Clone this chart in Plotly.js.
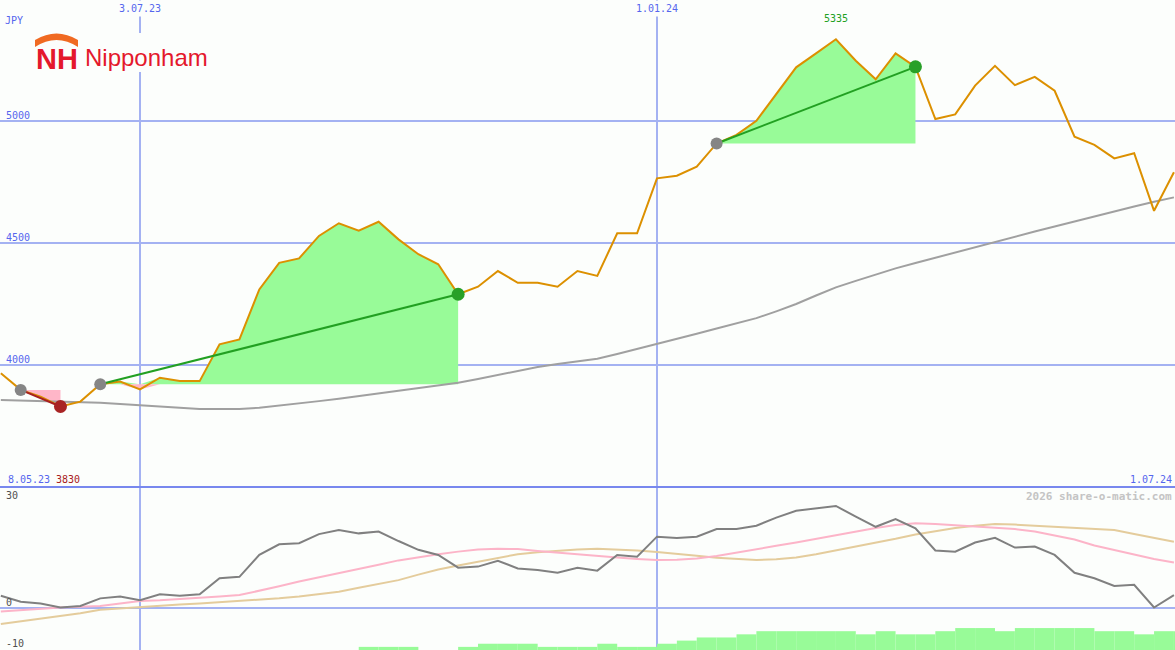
<!DOCTYPE html>
<html>
<head>
<meta charset="utf-8">
<script src="https://cdn.plot.ly/plotly-3.0.1.min.js"></script>
<style>
html,body{margin:0;padding:0;background:#fcfefc;}
#chart{width:1175px;height:650px;}
</style>
</head>
<body>
<div id="chart"></div>
<script>
// ---------- DATA ----------
const startDate = '2023-05-15';          // first weekly close (Monday)
const weekCount = 60;
const price = [3966,3898,3870,3830,3850,3921,3932,3900,3948,3934,3934,4085,4105,4310,4419,4437,4529,4581,4551,4587,4515,4454,4413,4290,4321,4385,4337,4337,4321,4385,4365,4540,4540,4765,4776,4813,4908,4943,5001,5111,5220,5277,5335,5247,5171,5277,5222,5008,5027,5145,5226,5147,5181,5124,4936,4902,4847,4868,4632,4790];
const movingAvg = [3857,3855,3853,3851,3848,3845,3840,3836,3830,3825,3820,3820,3820,3825,3833,3843,3852,3862,3873,3884,3895,3905,3916,3927,3943,3960,3976,3992,4004,4015,4026,4045,4065,4086,4106,4128,4150,4170,4192,4220,4250,4285,4318,4345,4372,4396,4418,4440,4462,4484,4505,4526,4547,4568,4589,4609,4630,4650,4669,4687];
const oscMain = [3.2,1.6,1.1,0,0.4,2.5,3.0,2.0,3.6,3.2,3.6,8.0,8.4,14.4,17.3,17.6,20.1,21.2,20.3,20.8,18.2,15.8,14.4,10.9,11.2,12.8,10.7,10.3,9.5,10.9,10.1,14.4,13.9,19.4,19.0,19.4,21.5,21.5,22.4,24.6,26.5,27.2,27.8,24.9,22.1,24.2,21.7,15.6,15.3,17.8,19.1,16.4,16.7,14.4,9.5,8.0,5.9,6.2,0,3.4];
const oscPink = [-1.1,-0.7,-0.3,0,0.2,0.4,1.1,1.8,2.0,2.3,2.5,3.0,3.4,4.5,5.8,7.1,8.2,9.4,10.6,11.7,12.9,13.8,14.6,15.3,15.9,16.1,16.0,15.5,15.0,14.5,14.1,13.7,13.3,13.0,13.1,13.4,14.1,15.1,16.0,16.9,17.8,18.8,19.9,20.9,21.8,22.6,23.1,22.9,22.6,22.2,21.9,21.5,20.8,19.8,18.6,17.0,15.7,14.5,13.3,12.3];
const oscTan = [-4.5,-3.8,-3.2,-2.5,-1.6,-0.6,-0.2,0.2,0.5,0.8,1.1,1.4,1.8,2.1,2.5,3.0,3.6,4.3,5.4,6.4,7.5,9.0,10.4,11.5,12.6,13.6,14.6,15.1,15.6,15.9,16.1,15.9,15.6,15.2,14.8,14.2,13.6,13.2,13.0,13.2,13.7,14.6,15.6,16.6,17.6,18.8,20.0,21.0,21.8,22.4,22.9,22.7,22.4,22.2,22.0,21.6,21.2,20.1,19.0,18.0];
const strengthBars = [0,0,0,0,0,0,0,0,0,0,0,0,0,0,0,0,0,0,1,1,1,0,0,1,2,2,2,1,1,1,2,1,1,2,3,4,4,5,6,6,6,6,6,5,6,5,5,6,7,7,6,7,7,7,7,6,6,5,6,6];
const tradeEntry = [1,5,36];
const tradeExit  = [3,23,46];
const priceTicks = [4000,4500,5000];
const oscTicks = [30,0,-10];
const oscTickLabels = ['30','0','-10'];
const topDateTicks = ['2023-07-03','2024-01-01'];
const topDateLabels = ['3.07.23','1.01.24'];
const cornerDateLabels = ['8.05.23','1.07.24'];
const currency = 'JPY';
const companyName = 'Nipponham';
const logoMark = 'NH';
const watermark = '2026 share-o-matic.com';

// ---------- HELPERS ----------
function addDays(s, n){const d=new Date(s+'T00:00:00Z');d.setUTCDate(d.getUTCDate()+n);return d.toISOString().slice(0,10);}
const dates = [];
for(let i=0;i<weekCount;i++) dates.push(addDays(startDate, 7*i));

const W=1175,H=650;
const px=x=>x/W, py=y=>1-y/H;
const BG='#fcfefc', GRID='#a4b2f2', TICKC='#5566ee';
const GREEN_FILL='#98fb98', PINK_FILL='#ffb6c8';
const lowFrac = 163/H;

const traces=[];
// trade fills
tradeEntry.forEach((e,k)=>{
  const x_=tradeExit[k];
  const xs=dates.slice(e,x_+1);
  const base=price[e];
  const seg=price.slice(e,x_+1);
  const baseY=xs.map(()=>base);
  traces.push({x:xs,y:baseY,mode:'lines',line:{width:0},hoverinfo:'skip',showlegend:false,xaxis:'x',yaxis:'y'});
  traces.push({x:xs,y:seg.map(v=>Math.max(v,base)),mode:'lines',line:{width:0},fill:'tonexty',fillcolor:GREEN_FILL,hoverinfo:'skip',showlegend:false,xaxis:'x',yaxis:'y'});
  traces.push({x:xs,y:baseY,mode:'lines',line:{width:0},hoverinfo:'skip',showlegend:false,xaxis:'x',yaxis:'y'});
  traces.push({x:xs,y:seg.map(v=>Math.min(v,base)),mode:'lines',line:{width:0},fill:'tonexty',fillcolor:PINK_FILL,hoverinfo:'skip',showlegend:false,xaxis:'x',yaxis:'y'});
});
// moving average
traces.push({x:dates,y:movingAvg,mode:'lines',line:{color:'#a0a0a0',width:2},hoverinfo:'skip',xaxis:'x',yaxis:'y'});
// price
traces.push({x:dates,y:price,mode:'lines',line:{color:'#dc9000',width:2},hoverinfo:'skip',xaxis:'x',yaxis:'y'});
// trade lines + markers
tradeEntry.forEach((e,k)=>{
  const x_=tradeExit[k];
  const win=price[x_]>price[e];
  const col=win?'#22a022':'#a82020';
  traces.push({x:[dates[e],dates[x_]],y:[price[e],price[x_]],mode:'lines',line:{color:col,width:2},hoverinfo:'skip',xaxis:'x',yaxis:'y'});
  traces.push({x:[dates[e]],y:[price[e]],mode:'markers',marker:{color:'#858585',size:12},hoverinfo:'skip',xaxis:'x',yaxis:'y'});
  traces.push({x:[dates[x_]],y:[price[x_]],mode:'markers',marker:{color:win?'#28a028':'#a82424',size:13},hoverinfo:'skip',xaxis:'x',yaxis:'y'});
});
// lower panel
traces.push({type:'bar',x:dates,y:strengthBars,offset:0,width:dates.map(()=>7*86400000),marker:{color:GREEN_FILL,line:{width:0}},hoverinfo:'skip',xaxis:'x2',yaxis:'y3'});
traces.push({x:dates,y:oscTan,mode:'lines',line:{color:'#e4cc9c',width:2},hoverinfo:'skip',xaxis:'x2',yaxis:'y2'});
traces.push({x:dates,y:oscPink,mode:'lines',line:{color:'#fcb4c8',width:2},hoverinfo:'skip',xaxis:'x2',yaxis:'y2'});
traces.push({x:dates,y:oscMain,mode:'lines',line:{color:'#808080',width:2},hoverinfo:'skip',xaxis:'x2',yaxis:'y2'});

// ---------- ANNOTATIONS ----------
const mono='DejaVu Sans Mono, monospace';
const ann=[];
priceTicks.forEach(v=>ann.push({xref:'paper',yref:'y',x:px(5),y:v,xanchor:'left',yanchor:'bottom',yshift:-1,text:String(v),showarrow:false,font:{family:mono,size:10,color:TICKC},borderpad:0}));
oscTicks.forEach((v,i)=>ann.push({xref:'paper',yref:'y2',x:px(5),y:v,xanchor:'left',yanchor:v===0?'bottom':'middle',yshift:v===0?-1:(v>0?2:1),text:oscTickLabels[i],showarrow:false,font:{family:mono,size:10,color:'#505050'},borderpad:0}));
topDateTicks.forEach((d,i)=>ann.push({xref:'x',yref:'paper',x:d,y:1,xanchor:'center',yanchor:'top',yshift:0,text:topDateLabels[i],showarrow:false,bgcolor:BG,borderpad:2,font:{family:mono,size:10,color:TICKC}}));
ann.push({xref:'paper',yref:'paper',x:px(7),y:py(479),xanchor:'left',yanchor:'middle',text:cornerDateLabels[0],showarrow:false,font:{family:mono,size:10,color:TICKC},borderpad:0});
const minV=Math.min(...price), maxV=Math.max(...price), maxI=price.indexOf(maxV);
ann.push({xref:'paper',yref:'paper',x:px(55),y:py(479),xanchor:'left',yanchor:'middle',text:String(minV),showarrow:false,font:{family:mono,size:10,color:'#a82020'},borderpad:0});
ann.push({xref:'paper',yref:'paper',x:px(1173),y:py(479),xanchor:'right',yanchor:'middle',text:cornerDateLabels[1],showarrow:false,font:{family:mono,size:10,color:TICKC},borderpad:0});
ann.push({xref:'x',yref:'y',x:dates[maxI],y:maxV,xanchor:'center',yanchor:'bottom',yshift:14,text:String(maxV),showarrow:false,font:{family:mono,size:10,color:'#22a022'},borderpad:0});
ann.push({xref:'paper',yref:'paper',x:px(4),y:py(20),xanchor:'left',yanchor:'middle',text:currency,showarrow:false,font:{family:mono,size:10,color:TICKC},borderpad:0});
ann.push({xref:'paper',yref:'paper',x:px(1173),y:py(496),xanchor:'right',yanchor:'middle',text:'<b>'+watermark+'</b>',showarrow:false,font:{family:mono,size:11,color:'#c4c4c4'},borderpad:0});
// logo
ann.push({xref:'paper',yref:'paper',x:px(56.5),y:py(59),xanchor:'center',yanchor:'middle',text:'<b>'+logoMark+'</b>',showarrow:false,font:{family:'Liberation Sans, Arial, sans-serif',size:29,color:'#e4182c'},borderpad:0});
ann.push({xref:'paper',yref:'paper',x:px(84),y:py(58),xanchor:'left',yanchor:'middle',text:companyName,showarrow:false,font:{family:'Liberation Sans, Arial, sans-serif',size:24,color:'#e4182c'},borderpad:0});

// ---------- SHAPES ----------
const arc = 'M '+px(35)+','+py(47)+' L '+px(35)+','+py(40)+' Q '+px(56.5)+','+py(27)+' '+px(78)+','+py(40)+' L '+px(78)+','+py(47)+' Q '+px(56.5)+','+py(33)+' '+px(35)+','+py(47)+' Z';
const shapes=[
  {type:'rect',xref:'paper',yref:'paper',x0:px(30),x1:px(212),y0:py(72),y1:py(33),fillcolor:BG,line:{width:0},layer:'above'},
  {type:'path',xref:'paper',yref:'paper',path:arc,fillcolor:'#f06a22',line:{width:0},layer:'above'},
  {type:'line',xref:'paper',yref:'paper',x0:0,x1:1,y0:lowFrac,y1:lowFrac,line:{color:'#7888ee',width:2},layer:'above'}
];

const xRange=['2023-05-14 17:00','2024-07-01 09:00'];
const layout={
  width:W,height:H,margin:{l:0,r:0,t:0,b:0,pad:0},
  paper_bgcolor:BG,plot_bgcolor:BG,showlegend:false,hovermode:false,
  xaxis:{domain:[0,1],anchor:'y',type:'date',range:xRange,tickvals:topDateTicks,showticklabels:false,ticks:'',showgrid:true,gridcolor:GRID,gridwidth:2,zeroline:false,showline:false},
  xaxis2:{domain:[0,1],anchor:'y2',type:'date',range:xRange,matches:'x',tickvals:topDateTicks,showticklabels:false,ticks:'',showgrid:true,gridcolor:GRID,gridwidth:2,zeroline:false,showline:false},
  yaxis:{domain:[lowFrac,1],anchor:'x',range:[3500,5496],tickvals:priceTicks,showticklabels:false,ticks:'',showgrid:true,gridcolor:GRID,gridwidth:2,zeroline:false,showline:false},
  yaxis2:{domain:[0,lowFrac],anchor:'x2',range:[-11.64,33],tickvals:[0],showticklabels:false,ticks:'',showgrid:true,gridcolor:GRID,gridwidth:2,zeroline:false,showline:false},
  yaxis3:{overlaying:'y2',anchor:'x2',range:[0,52],showticklabels:false,ticks:'',showgrid:false,zeroline:false,showline:false},
  annotations:ann,shapes:shapes
};
Plotly.newPlot('chart',traces,layout,{displayModeBar:false,staticPlot:true});
</script>
</body>
</html>
